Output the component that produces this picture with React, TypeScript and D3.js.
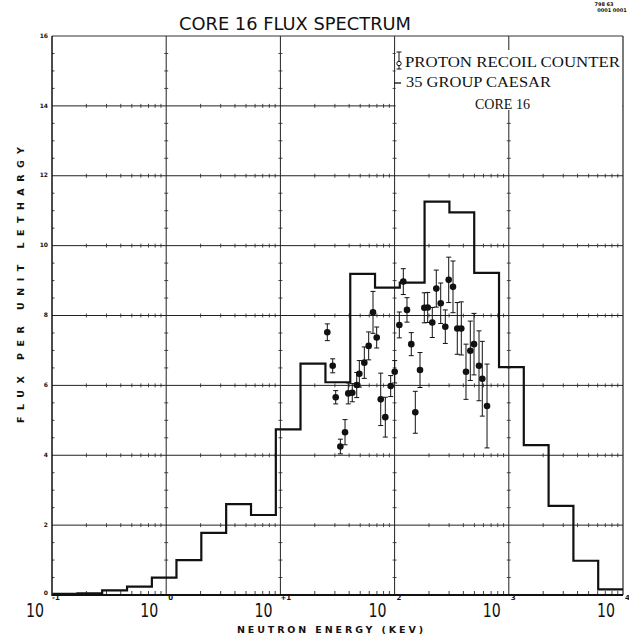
import React from "react";
import * as d3 from "d3";

// 35-group CAESAR calculation: group boundaries (keV, ascending) and flux per unit lethargy
const groupEdges = [
  0.101, 0.167, 0.275, 0.454, 0.749, 1.23, 2.03, 3.35, 5.53, 9.12, 15.0, 24.8,
  40.9, 67.4, 111, 183, 302, 498, 821, 1353, 2231, 3679, 6065, 10000,
];
const groupFlux = [
  0.03, 0.05, 0.13, 0.24, 0.5, 1.0, 1.78, 2.6, 2.29, 4.74, 6.62, 6.09, 9.19,
  8.8, 8.94, 11.26, 10.95, 9.22, 6.52, 4.29, 2.55, 0.98, 0.16,
];

// Proton recoil counter measurements: energy (keV), flux, error half-width
const measEnergy = [
  25.75, 28.7, 30.5, 33.5, 36.8, 39.3, 42.6, 46.6, 49.1, 54.3, 59.3, 64.7, 69.7,
  75.6, 82.9, 92.4, 100.2, 110, 119.2, 128.4, 140, 151.8, 166.9, 182, 194.9,
  213.8, 231.8, 253.4, 278, 297.7, 324.7, 354, 383.8, 421.9, 460.2, 495.8,
  548.4, 586.1, 644.6,
];
const measFlux = [
  7.52, 6.56, 5.66, 4.25, 4.66, 5.77, 5.79, 6.01, 6.33, 6.65, 7.13, 8.09, 7.37,
  5.6, 5.09, 5.98, 6.39, 7.73, 8.97, 8.16, 7.18, 5.23, 6.44, 8.22, 8.23, 7.8,
  8.77, 8.35, 7.68, 9.02, 8.82, 7.63, 7.63, 6.39, 6.99, 7.18, 6.56, 6.19, 5.41,
];
const measErr = [
  0.24, 0.2, 0.19, 0.21, 0.36, 0.3, 0.26, 0.36, 0.38, 0.45, 0.4, 0.6, 0.3,
  0.75, 0.57, 0.3, 0.32, 0.37, 0.37, 0.35, 0.33, 0.6, 0.5, 0.43, 0.43, 0.43,
  0.53, 0.58, 0.48, 0.65, 0.74, 0.74, 0.76, 0.79, 0.85, 0.88, 1.0, 1.07, 1.2,
];

const yTickValues = [0, 2, 4, 6, 8, 10, 12, 14, 16];
const xDecades = [0.1, 1, 10, 100, 1000, 10000];
const xExponents = ["-1", "0", "+1", "2", "3", "4"];

const W = 629;
const H = 641;
const X0 = 52;
const X1 = 623;
const Y0 = 595;
const Y1 = 36;

export default function App() {
  const x = d3.scaleLog().domain([0.1, 10000]).range([X0, X1]);
  const y = d3.scaleLinear().domain([0, 16]).range([Y0, Y1]);

  const stepPts: [number, number][] = groupFlux.map((v, i) => [groupEdges[i], v]);
  stepPts.push([groupEdges[groupEdges.length - 1], groupFlux[groupFlux.length - 1]]);
  const stepLine = d3
    .line<[number, number]>()
    .x((d) => x(d[0]))
    .y((d) => y(d[1]))
    .curve(d3.curveStepAfter);

  const minorX = x.ticks().filter((t) => Math.abs(Math.log10(t) - Math.round(Math.log10(t))) > 1e-6);
  const minorY = d3.range(0.5, 16, 0.5).filter((v) => v % 2 !== 0);
  const gridY = yTickValues.filter((v) => v > 0 && v < 16);
  const gridX = xDecades.slice(1, -1);

  const ink = "#111";
  const grid = "#222";

  return (
    <svg
      width={W}
      height={H}
      viewBox={`0 0 ${W} ${H}`}
      style={{ position: "absolute", left: 0, top: 0, background: "#fff" }}
    >
      <rect x={0} y={0} width={W} height={H} fill="#fff" />

      {/* title and plot id */}
      <text
        x={295}
        y={30}
        textAnchor="middle"
        fontFamily="DejaVu Sans"
        fontSize={18}
        textLength={232}
        lengthAdjust="spacingAndGlyphs"
        fill={ink}
      >
        CORE 16 FLUX SPECTRUM
      </text>
      <text x={604} y={6} textAnchor="middle" fontFamily="DejaVu Sans" fontWeight="bold" fontSize={5} fill={ink}>
        798 63
      </text>
      <text x={612} y={12} textAnchor="middle" fontFamily="DejaVu Sans" fontWeight="bold" fontSize={5} fill={ink}>
        0001 0001
      </text>

      {/* horizontal grid lines with log minor ticks */}
      {gridY.map((v) => (
        <g key={`gy${v}`}>
          <line x1={X0} x2={X1} y1={y(v)} y2={y(v)} stroke={grid} strokeWidth={1} />
          {minorX.map((t) => (
            <line key={t} x1={x(t)} x2={x(t)} y1={y(v) - 2} y2={y(v) + 2} stroke={grid} strokeWidth={0.8} />
          ))}
        </g>
      ))}

      {/* vertical grid lines at each decade */}
      {gridX.map((e) => (
        <g key={`gx${e}`}>
          <line x1={x(e)} x2={x(e)} y1={Y1} y2={Y0} stroke={grid} strokeWidth={1} />
          {minorY.map((v) => (
            <line key={v} x1={x(e) - 2} x2={x(e) + 2} y1={y(v)} y2={y(v)} stroke={grid} strokeWidth={0.8} />
          ))}
        </g>
      ))}

      {/* legend panel */}
      <rect x={x(100) + 1} y={50} width={X1 - x(100) - 1.5} height={60} fill="#fff" />
      <line x1={399} x2={399} y1={52} y2={69} stroke={ink} strokeWidth={1} />
      <line x1={396.5} x2={401.5} y1={52} y2={52} stroke={ink} strokeWidth={1} />
      <line x1={396.5} x2={401.5} y1={69} y2={69} stroke={ink} strokeWidth={1} />
      <circle cx={399} cy={63.5} r={2.2} fill="#fff" stroke={ink} strokeWidth={1} />
      <text
        x={405}
        y={67}
        fontFamily="Liberation Serif"
        fontSize={14}
        textLength={215}
        lengthAdjust="spacingAndGlyphs"
        fill={ink}
      >
        PROTON RECOIL COUNTER
      </text>
      <line x1={394} x2={401} y1={83} y2={83} stroke={ink} strokeWidth={1.3} />
      <text
        x={406}
        y={87}
        fontFamily="Liberation Serif"
        fontSize={14}
        textLength={145}
        lengthAdjust="spacingAndGlyphs"
        fill={ink}
      >
        35 GROUP CAESAR
      </text>
      <text
        x={475}
        y={109}
        fontFamily="Liberation Serif"
        fontSize={14}
        textLength={55}
        lengthAdjust="spacingAndGlyphs"
        fill={ink}
      >
        CORE 16
      </text>

      {/* frame */}
      <line x1={X0} x2={X1} y1={Y1} y2={Y1} stroke="#333" strokeWidth={1} />
      <line x1={X1} x2={X1} y1={Y1} y2={Y0} stroke={grid} strokeWidth={1.2} />
      <line x1={X0} x2={X0} y1={Y1} y2={Y0 + 1} stroke={ink} strokeWidth={1.5} />
      <line x1={X0} x2={X1} y1={Y0} y2={Y0} stroke={ink} strokeWidth={2} />
      {minorX.map((t) => (
        <line key={`bx${t}`} x1={x(t)} x2={x(t)} y1={Y0} y2={Y0 - 4} stroke={ink} strokeWidth={0.8} />
      ))}
      {minorY.map((v) => (
        <line key={`ly${v}`} x1={X0} x2={X0 + 2.5} y1={y(v)} y2={y(v)} stroke={ink} strokeWidth={0.8} />
      ))}

      {/* y tick labels */}
      {yTickValues.map((v) => (
        <text
          key={`yl${v}`}
          x={48}
          y={v === 0 ? y(v) - 2 : y(v)}
          textAnchor="end"
          dominantBaseline="middle"
          fontFamily="DejaVu Sans"
          fontWeight="bold"
          fontSize={6}
          fill={ink}
        >
          {v}
        </text>
      ))}

      {/* x decade labels */}
      {xDecades.map((e, i) => (
        <g key={`xl${e}`}>
          <text
            x={x(e) - 26}
            y={617}
            fontFamily="DejaVu Sans"
            fontSize={20}
            textLength={18}
            lengthAdjust="spacingAndGlyphs"
            fill={ink}
          >
            10
          </text>
          <text x={x(e) + (xExponents[i].length > 1 ? 0 : 2)} y={600} fontFamily="DejaVu Sans" fontWeight="bold" fontSize={7} fill={ink}>
            {xExponents[i]}
          </text>
        </g>
      ))}

      {/* axis titles */}
      <text
        x={330}
        y={633}
        textAnchor="middle"
        fontFamily="DejaVu Sans"
        fontWeight="bold"
        fontSize={9.5}
        textLength={186}
        lengthAdjust="spacing"
        fill={ink}
      >
        NEUTRON ENERGY (KEV)
      </text>
      <text
        transform="translate(24,285) rotate(-90)"
        textAnchor="middle"
        fontFamily="DejaVu Sans"
        fontWeight="bold"
        fontSize={9.5}
        textLength={276}
        lengthAdjust="spacing"
        fill={ink}
      >
        FLUX PER UNIT LETHARGY
      </text>

      {/* calculated group fluxes */}
      <path d={stepLine(stepPts) ?? ""} fill="none" stroke={ink} strokeWidth={2.2} strokeLinejoin="miter" />

      {/* measured points with error bars */}
      {measEnergy.map((e, i) => {
        const cx = x(e);
        const yHi = y(measFlux[i] + measErr[i]);
        const yLo = y(measFlux[i] - measErr[i]);
        return (
          <g key={`m${i}`}>
            <line x1={cx} x2={cx} y1={yHi} y2={yLo} stroke={ink} strokeWidth={1} />
            <line x1={cx - 2.5} x2={cx + 2.5} y1={yHi} y2={yHi} stroke={ink} strokeWidth={1} />
            <line x1={cx - 2.5} x2={cx + 2.5} y1={yLo} y2={yLo} stroke={ink} strokeWidth={1} />
            <circle cx={cx} cy={y(measFlux[i])} r={3.3} fill={ink} />
          </g>
        );
      })}
    </svg>
  );
}
